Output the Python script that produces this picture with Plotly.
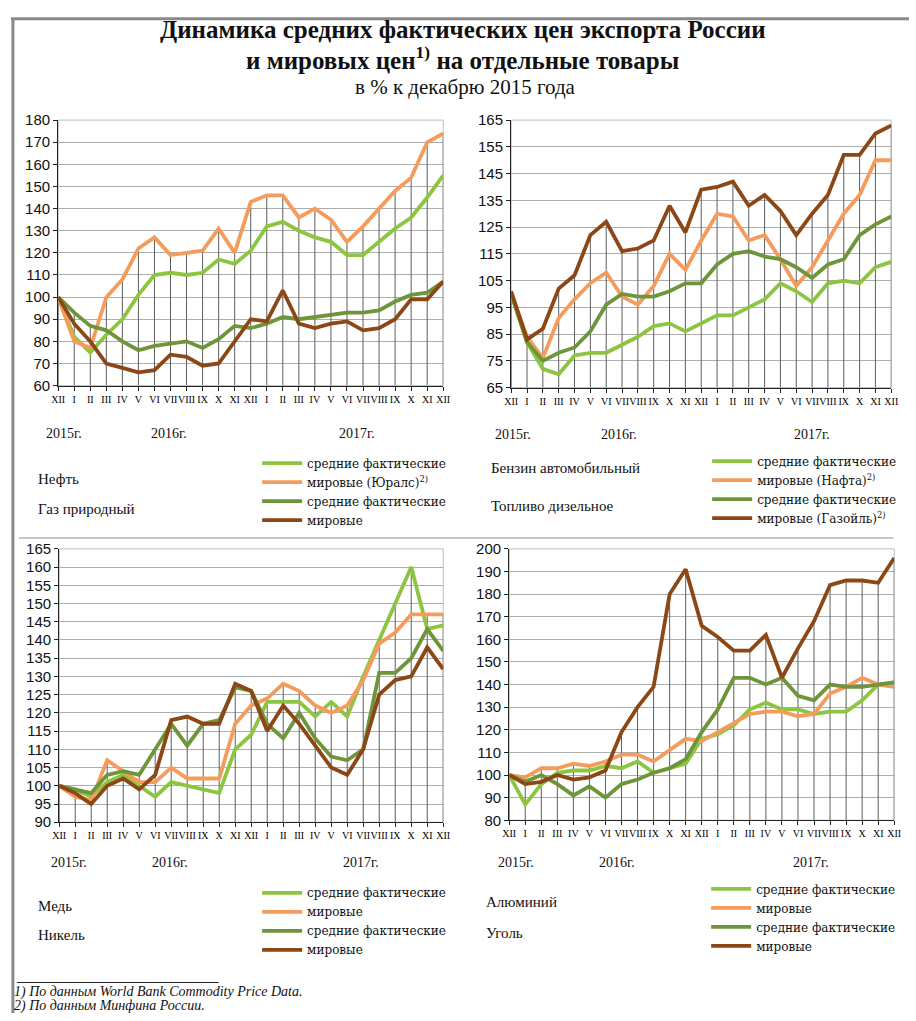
import plotly.graph_objects as go

W, H = 916, 1021

months = ["XII", "I", "II", "III", "IV", "V", "VI", "VII", "VIII", "IX", "X", "XI",
          "XII", "I", "II", "III", "IV", "V", "VI", "VII", "VIII", "IX", "X", "XI", "XII"]
years = ["2015г.", "2016г.", "2017г."]

# Нефть / Газ природный
oil_avg = [100, 82, 75, 83, 90, 101, 110, 111, 110, 111, 117, 115, 121, 132, 134, 130, 127, 125, 119, 119, 125, 131, 136, 145, 155]
oil_world = [100, 80, 77, 100, 108, 122, 127, 119, 120, 121, 131, 120, 143, 146, 146, 136, 140, 135, 125, 132, 140, 148, 154, 170, 174]
gas_avg = [100, 93, 87, 85, 80, 76, 78, 79, 80, 77, 81, 87, 86, 88, 91, 90, 91, 92, 93, 93, 94, 98, 101, 102, 107]
gas_world = [100, 88, 80, 70, 68, 66, 67, 74, 73, 69, 70, 80, 90, 89, 103, 88, 86, 88, 89, 85, 86, 90, 99, 99, 107]

# Бензин автомобильный / Топливо дизельное
petrol_avg = [100, 82, 72, 70, 77, 78, 78, 81, 84, 88, 89, 86, 89, 92, 92, 95, 98, 104, 101, 97, 104, 105, 104, 110, 112]
naphtha_world = [100, 84, 76, 91, 98, 104, 108, 99, 96, 103, 115, 109, 120, 130, 129, 120, 122, 113, 103, 110, 120, 130, 137, 150, 150]
diesel_avg = [100, 82, 75, 78, 80, 86, 96, 100, 99, 99, 101, 104, 104, 111, 115, 116, 114, 113, 110, 106, 111, 113, 122, 126, 129]
gasoil_world = [101, 83, 87, 102, 107, 122, 127, 116, 117, 120, 133, 123, 139, 140, 142, 133, 137, 131, 122, 130, 137, 152, 152, 160, 163]

# Медь / Никель
copper_avg = [100, 99, 97, 101, 103, 100, 97, 101, 100, 99, 98, 110, 114, 123, 123, 123, 119, 123, 119, 130, 140, 150, 160, 143, 144]
copper_world = [100, 97, 96, 107, 104, 101, 101, 105, 102, 102, 102, 117, 122, 124, 128, 126, 122, 120, 122, 129, 139, 142, 147, 147, 147]
nickel_avg = [100, 99, 98, 103, 104, 103, 110, 117, 111, 117, 118, 127, 126, 117, 113, 120, 113, 108, 107, 110, 131, 131, 135, 143, 137]
nickel_world = [100, 98, 95, 100, 102, 99, 103, 118, 119, 117, 117, 128, 126, 115, 122, 117, 111, 105, 103, 110, 125, 129, 130, 138, 132]

# Алюминий / Уголь
alu_avg = [100, 87, 96, 101, 102, 102, 104, 103, 106, 101, 103, 105, 116, 118, 122, 129, 132, 129, 129, 127, 128, 128, 133, 140, 141]
alu_world = [100, 99, 103, 103, 105, 104, 106, 109, 109, 106, 111, 116, 115, 119, 123, 127, 128, 128, 126, 127, 136, 139, 143, 140, 139]
coal_avg = [100, 97, 100, 96, 91, 95, 90, 96, 98, 101, 103, 107, 119, 129, 143, 143, 140, 143, 135, 133, 140, 139, 139, 140, 141]
coal_world = [100, 96, 97, 100, 98, 99, 102, 119, 130, 139, 180, 191, 166, 161, 155, 155, 162, 143, 156, 168, 184, 186, 186, 185, 196]

C_LG = "#8CC640"
C_OR = "#F59C5C"
C_DG = "#6E953A"
C_BR = "#8C4716"

SERIF = "Liberation Serif, Times New Roman, serif"
LEGSERIF = "DejaVu Serif, Liberation Serif, serif"
SANS = "Liberation Sans, Arial, sans-serif"


def fx(px):
    return px / W


def fy(py):
    return 1 - py / H


panels = [
    dict(n="", box=(52, 113, 443, 383), yr=(60, 180), dt=10, legend="legend",
         series=[(oil_avg, "средние фактические", C_LG),
                 (oil_world, "мировые (Юралс)<sup>2)</sup>", C_OR),
                 (gas_avg, "средние фактические", C_DG),
                 (gas_world, "мировые", C_BR)],
         leg=(254, 447), names=[("Нефть", 29, 478), ("Газ природный", 29, 508)],
         yrs=[(58, 432), (165, 432), (355, 432)]),
    dict(n="2", box=(512, 113, 898, 385), yr=(65, 165), dt=10, legend="legend2",
         series=[(petrol_avg, "средние фактические", C_LG),
                 (naphtha_world, "мировые (Нафта)<sup>2)</sup>", C_OR),
                 (diesel_avg, "средние фактические", C_DG),
                 (gasoil_world, "мировые (Газойль)<sup>2)</sup>", C_BR)],
         leg=(711, 445), names=[("Бензин автомобильный", 489, 467), ("Топливо дизельное", 489, 505)],
         yrs=[(514, 433), (622, 433), (817, 433)]),
    dict(n="3", box=(53, 549, 443, 827), yr=(90, 165), dt=5, legend="legend3",
         series=[(copper_avg, "средние фактические", C_LG),
                 (copper_world, "мировые", C_OR),
                 (nickel_avg, "средние фактические", C_DG),
                 (nickel_world, "мировые", C_BR)],
         leg=(254, 884), names=[("Медь", 29, 912), ("Никель", 29, 942)],
         yrs=[(63, 868), (166, 868), (359, 868)]),
    dict(n="4", box=(510, 549, 901, 825), yr=(80, 200), dt=10, legend="legend4",
         series=[(alu_avg, "средние фактические", C_LG),
                 (alu_world, "мировые", C_OR),
                 (coal_avg, "средние фактические", C_DG),
                 (coal_world, "мировые", C_BR)],
         leg=(710, 880), names=[("Алюминий", 484, 908), ("Уголь", 484, 940)],
         yrs=[(517, 868), (619, 868), (816, 868)]),
]

fig = go.Figure()
layout = dict(
    width=W, height=H, margin=dict(l=0, r=0, t=0, b=0),
    paper_bgcolor="white", plot_bgcolor="white", showlegend=True,
    annotations=[], shapes=[],
)

xs = list(range(len(months)))

for p in panels:
    n = p["n"]
    xa, ya = "x" + n, "y" + n
    x0, y0, x1, y1 = p["box"]
    # drop lines from the axis up to the highest series value at each month
    tops = [max(vals) for vals in zip(*[s[0] for s in p["series"]])]
    dx, dy = [], []
    for i, t in zip(xs, tops):
        dx += [i, i, None]
        dy += [p["yr"][0], t, None]
    fig.add_trace(go.Scatter(x=dx, y=dy, mode="lines", xaxis=xa, yaxis=ya,
                             line=dict(color="#5e5e5e", width=1), showlegend=False,
                             hoverinfo="skip"))
    for vals, name, col in p["series"]:
        fig.add_trace(go.Scatter(x=xs, y=vals, mode="lines", name=name, xaxis=xa, yaxis=ya,
                                 line=dict(color=col, width=3.8), legend=p["legend"]))
    layout["xaxis" + n] = dict(
        domain=[fx(x0), fx(x1)], anchor=ya, range=[0, len(months) - 1],
        tickmode="array", tickvals=xs, ticktext=months, tickangle=0,
        showgrid=False, zeroline=False, showline=True, linecolor="#222", linewidth=1.2,
        ticks="outside", ticklen=4, tickcolor="#222",
        tickfont=dict(family=SERIF, size=10, color="#000"),
    )
    layout["yaxis" + n] = dict(
        domain=[fy(y1), fy(y0)], anchor=xa, range=list(p["yr"]), dtick=p["dt"],
        tick0=p["yr"][0], showgrid=True, gridcolor="#adadad", gridwidth=1, zeroline=False,
        showline=True, linecolor="#222", linewidth=1.2, ticks="outside", ticklen=4,
        tickcolor="#222", tickfont=dict(family=SANS, size=15, color="#111"),
    )
    layout["shapes"].append(dict(type="rect", xref=xa + " domain", yref=ya + " domain",
                                 x0=0, x1=1, y0=0, y1=1, line=dict(color="#bdbdbd", width=1),
                                 layer="below"))
    lx, ly = p["leg"]
    layout[p["legend"]] = dict(x=fx(lx), y=fy(ly), xanchor="left", yanchor="top",
                               bgcolor="rgba(0,0,0,0)", tracegroupgap=0,
                               font=dict(family=LEGSERIF, size=12, color="#111"),
                               itemwidth=40)
    for txt, tx, ty in p["names"]:
        layout["annotations"].append(dict(text=txt, x=fx(tx), y=fy(ty), xref="paper", yref="paper",
                                          xanchor="left", yanchor="middle", showarrow=False,
                                          font=dict(family=SERIF, size=15, color="#111")))
    for txt, (tx, ty) in zip(years, p["yrs"]):
        layout["annotations"].append(dict(text=txt, x=fx(tx), y=fy(ty), xref="paper", yref="paper",
                                          xanchor="center", yanchor="middle", showarrow=False,
                                          font=dict(family=SERIF, size=14, color="#111")))

# title and footnotes
layout["annotations"] += [
    dict(text="<b>Динамика средних фактических цен экспорта России</b>", x=fx(463), y=fy(21),
         xref="paper", yref="paper", showarrow=False, xanchor="center", yanchor="middle",
         font=dict(family=SERIF, size=25, color="#111")),
    dict(text="<b>и мировых цен<sup>1)</sup> на отдельные товары</b>", x=fx(463), y=fy(50),
         xref="paper", yref="paper", showarrow=False, xanchor="center", yanchor="middle",
         font=dict(family=SERIF, size=25, color="#111")),
    dict(text="в % к декабрю 2015 года", x=fx(466), y=fy(79),
         xref="paper", yref="paper", showarrow=False, xanchor="center", yanchor="middle",
         font=dict(family=SERIF, size=21, color="#111")),
    dict(text="<i>1) По данным World Bank Commodity Price Data.</i>", x=fx(5), y=fy(1000),
         xref="paper", yref="paper", showarrow=False, xanchor="left", yanchor="middle",
         font=dict(family=SERIF, size=14, color="#111")),
    dict(text="<i>2) По данным Минфина России.</i>", x=fx(5), y=fy(1014),
         xref="paper", yref="paper", showarrow=False, xanchor="left", yanchor="middle",
         font=dict(family=SERIF, size=14, color="#111")),
]

layout["shapes"] += [
    dict(type="line", xref="paper", yref="paper", x0=fx(4), x1=fx(916), y0=fy(10), y1=fy(10),
         line=dict(color="#8a8a8a", width=3)),
    dict(type="line", xref="paper", yref="paper", x0=fx(6), x1=fx(6), y0=fy(10), y1=fy(1021),
         line=dict(color="#8a8a8a", width=3)),
    dict(type="line", xref="paper", yref="paper", x0=fx(12), x1=fx(900), y0=fy(538), y1=fy(538),
         line=dict(color="#b5b5b5", width=1.5)),
    dict(type="line", xref="paper", yref="paper", x0=fx(10), x1=fx(215), y0=fy(990), y1=fy(990),
         line=dict(color="#222", width=1)),
]

fig.update_layout(**layout)
fig.write_html(
    "out.html",
    config={"displayModeBar": False},
    post_script="document.body.style.margin='0';document.body.style.overflow='hidden';"
                "document.documentElement.style.overflow='hidden';",
)
